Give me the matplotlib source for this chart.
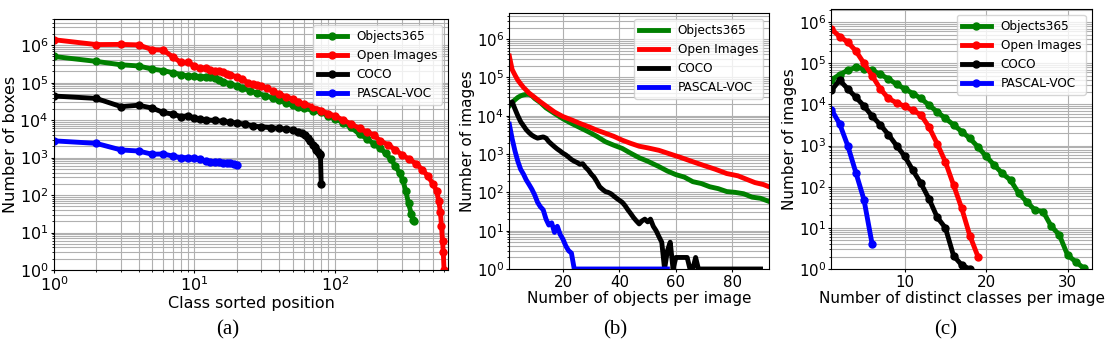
import matplotlib
matplotlib.use('Agg')
import matplotlib.pyplot as plt

names = ['Objects365', 'Open Images', 'COCO', 'PASCAL-VOC']
colors = ['green', 'red', 'black', 'blue']

# (a) boxes per class, classes sorted by count
obj_rank = [1, 2, 3, 4, 5, 6, 7, 8, 9, 10, 11, 12, 13, 14, 15, 16, 18, 20, 22, 25,
            28, 32, 36, 40, 45, 50, 55, 60, 70, 80, 90, 100, 115, 130, 150, 170,
            190, 210, 230, 250, 270, 290, 305, 320, 335, 350, 360, 365]
obj_boxes = [5.0e5, 3.7e5, 3.0e5, 2.8e5, 2.3e5, 2.1e5, 1.85e5, 1.65e5, 1.5e5, 1.5e5,
             1.45e5, 1.45e5, 1.4e5, 1.3e5, 1.15e5, 1.05e5, 9.5e4, 8.2e4, 7.3e4, 6.0e4,
             5.3e4, 4.5e4, 3.9e4, 3.4e4, 2.9e4, 2.5e4, 2.3e4, 2.1e4, 1.8e4, 1.6e4,
             1.3e4, 1.1e4, 8.5e3, 6.5e3, 4.2e3, 3.2e3, 2.3e3, 1.8e3, 1.3e3, 900,
             600, 380, 250, 130, 60, 32, 22, 20]
oi_rank = [1, 2, 3, 4, 5, 6, 7, 8, 9, 10, 11, 12, 13, 14, 15, 16, 17, 18, 20, 22,
           24, 26, 28, 30, 33, 36, 40, 45, 50, 55, 60, 70, 80, 90, 100, 115, 130,
           150, 170, 190, 210, 240, 270, 300, 340, 380, 420, 460, 500, 530, 550,
           565, 575, 585, 592, 600]
oi_boxes = [1.4e6, 1.04e6, 1.05e6, 1.02e6, 7.6e5, 7.4e5, 4.9e5, 3.5e5, 3.5e5, 2.75e5,
            2.5e5, 2.4e5, 2.2e5, 2.1e5, 2.0e5, 1.9e5, 1.75e5, 1.6e5, 1.45e5, 1.25e5,
            1.0e5, 9.3e4, 8.6e4, 8.0e4, 7.0e4, 6.0e4, 5.0e4, 4.2e4, 3.7e4, 3.0e4,
            2.7e4, 2.3e4, 1.8e4, 1.5e4, 1.3e4, 1.0e4, 8.0e3, 6.0e3, 4.8e3, 4.0e3,
            2.8e3, 2.2e3, 1.6e3, 1.2e3, 900, 680, 480, 320, 200, 130,
            70, 35, 15, 6, 3, 1]
coco_rank = [1, 2, 3, 4, 5, 6, 7, 8, 9, 10, 11, 12, 14, 16, 18, 20, 23, 26, 30, 35,
             40, 45, 50, 55, 58, 61, 64, 67, 70, 72, 74, 76, 78, 79, 80]
coco_boxes = [4.4e4, 3.8e4, 2.3e4, 2.5e4, 2.1e4, 1.6e4, 1.45e4, 1.25e4, 1.3e4, 1.15e4,
              1.07e4, 1.02e4, 9.8e3, 9.3e3, 8.8e3, 8.4e3, 7.8e3, 7.0e3, 6.6e3, 6.3e3,
              6.0e3, 5.7e3, 5.4e3, 4.9e3, 4.5e3, 4.0e3, 3.3e3, 2.7e3, 2.2e3, 1.9e3,
              1.6e3, 1.4e3, 1.25e3, 1.2e3, 200]
voc_rank = list(range(1, 21))
voc_boxes = [2.8e3, 2.4e3, 1.6e3, 1.5e3, 1.23e3, 1.25e3, 1.1e3, 1.0e3, 1.0e3, 950,
             900, 800, 780, 770, 760, 740, 720, 700, 660, 620]

# (b) images by number of annotated objects
obj_nobj = [1, 2, 3, 4, 5, 6, 7, 8, 9, 10, 12, 14, 17, 20, 23, 26, 29, 32, 35, 38,
            41, 44, 47, 50, 54, 57, 60, 63, 66, 69, 72, 75, 78, 81, 84, 87, 90, 93]
obj_imgs = [1.8e4, 2.2e4, 2.6e4, 3.0e4, 3.3e4, 3.5e4, 3.6e4, 3.6e4, 3.3e4, 2.8e4,
            2.2e4, 1.6e4, 1.15e4, 8.3e3, 6.3e3, 4.9e3, 3.8e3, 2.9e3, 2.1e3, 1.7e3,
            1.4e3, 1.05e3, 800, 650, 470, 360, 290, 250, 190, 170, 140, 125,
            105, 100, 92, 75, 70, 58]
oi_nobj = [1, 2, 3, 4, 5, 6, 8, 10, 12, 14, 17, 20, 23, 26, 29, 32, 35, 38, 41, 44,
           47, 50, 54, 58, 62, 66, 70, 74, 78, 82, 85, 88, 91, 93]
oi_imgs = [3.6e5, 1.6e5, 1.15e5, 8.5e4, 6.8e4, 5.5e4, 3.9e4, 3.0e4, 2.3e4, 1.8e4,
           1.25e4, 9.5e3, 7.8e3, 6.3e3, 5.2e3, 4.2e3, 3.5e3, 2.9e3, 2.3e3, 1.9e3,
           1.6e3, 1.45e3, 1.25e3, 1.0e3, 800, 630, 500, 400, 310, 270,
           220, 180, 160, 140]
coco_nobj = [1, 2, 3, 4, 5, 6, 7, 8, 9, 10, 11, 12, 13, 14, 15, 16, 17, 18, 19, 20,
             21, 22, 23, 24, 25, 26, 27, 28, 29, 30, 31, 32, 33, 34, 35, 36, 37, 38,
             39, 40, 41, 42, 43, 44, 45, 46, 47, 48, 49, 50, 51, 52, 53, 54, 55, 56,
             57, 58, 59, 60, 61, 62, 63, 64, 65, 66, 67, 68, 90]
coco_imgs = [2.0e4, 2.3e4, 1.5e4, 1.0e4, 7.0e3, 5.5e3, 4.3e3, 3.6e3, 3.1e3, 2.8e3,
             2.6e3, 2.7e3, 2.8e3, 2.6e3, 2.1e3, 1.8e3, 1.55e3, 1.35e3, 1.2e3, 1.05e3,
             950, 830, 720, 650, 600, 540, 560, 450, 380, 300, 250, 190, 140, 120,
             105, 100, 92, 80, 70, 62, 55, 45, 35, 28, 22, 18, 15, 18, 20, 17,
             20, 13, 10, 7, 5, 1, 3, 5, 1, 2, 2, 2, 2, 2, 1, 1, 2, 1, 1]
voc_nobj = [1, 2, 3, 4, 5, 6, 7, 8, 9, 10, 11, 12, 13, 14, 15, 16, 17, 18, 19, 20,
            21, 22, 23, 24, 57]
voc_imgs = [6.0e3, 2.5e3, 1.2e3, 650, 400, 300, 210, 160, 120, 85,
            55, 42, 35, 20, 14, 16, 9, 13, 8, 6,
            4, 3, 2.6, 1, 1]

# (c) images by number of distinct classes
obj_ncls = list(range(1, 33))
obj_cimgs = [4.0e4, 5.3e4, 6.8e4, 8.0e4, 7.5e4, 6.8e4, 5.4e4, 4.2e4, 3.1e4, 2.4e4,
             1.85e4, 1.4e4, 9.6e3, 6.6e3, 4.6e3, 3.2e3, 2.2e3, 1.5e3, 930, 550,
             336, 210, 145, 70, 43, 27, 25, 11, 6.7, 2.2, 1.5, 1.05]
oi_ncls = list(range(1, 20))
oi_cimgs = [6.8e5, 4.5e5, 3.3e5, 2.0e5, 1.0e5, 5.0e4, 2.4e4, 1.4e4, 1.1e4, 9.0e3,
            7.2e3, 5.6e3, 2.8e3, 1.1e3, 400, 110, 30, 6.5, 2]
coco_ncls = list(range(1, 19))
coco_cimgs = [2.2e4, 3.9e4, 2.4e4, 1.5e4, 9.2e3, 5.2e3, 3.2e3, 1.85e3, 1.0e3, 550,
              250, 120, 50, 18, 10, 2.1, 1.25, 1]
voc_ncls = list(range(1, 7))
voc_cimgs = [7.5e3, 3.4e3, 1.0e3, 220, 48, 4]

fig = plt.figure(figsize=(11.15, 3.47), dpi=100)
ax_a = fig.add_axes([0.0484, 0.2219, 0.3534, 0.7233])
ax_b = fig.add_axes([0.4568, 0.2248, 0.2329, 0.7378])
ax_c = fig.add_axes([0.7457, 0.2248, 0.2336, 0.7493])

panel_a = [(obj_rank, obj_boxes), (oi_rank, oi_boxes), (coco_rank, coco_boxes), (voc_rank, voc_boxes)]
panel_b = [(obj_nobj, obj_imgs), (oi_nobj, oi_imgs), (coco_nobj, coco_imgs), (voc_nobj, voc_imgs)]
panel_c = [(obj_ncls, obj_cimgs), (oi_ncls, oi_cimgs), (coco_ncls, coco_cimgs), (voc_ncls, voc_cimgs)]

for (x, y), name, c in zip(panel_a, names, colors):
    ax_a.plot(x, y, color=c, lw=3.5, marker='o', ms=5, label=name)
for (x, y), name, c in zip(panel_b, names, colors):
    ax_b.plot(x, y, color=c, lw=3.5, label=name)
for (x, y), name, c in zip(panel_c, names, colors):
    ax_c.plot(x, y, color=c, lw=3.5, marker='o', ms=5, label=name)

ax_a.set_xscale('log')
ax_a.set_xlim(1, 640)
ax_a.set_ylim(1, 5e6)
ax_a.set_xlabel('Class sorted position', fontsize=11.5, labelpad=1)
ax_a.set_ylabel('Number of boxes', fontsize=11.5, labelpad=1)

ax_b.set_xlim(1, 93)
ax_b.set_ylim(1, 4.8e6)
ax_b.set_xticks([20, 40, 60, 80])
ax_b.set_xlabel('Number of objects per image', fontsize=11, labelpad=1)
ax_b.set_ylabel('Number of images', fontsize=11, labelpad=1)

ax_c.set_xlim(1, 33)
ax_c.set_ylim(1, 2.1e6)
ax_c.set_xticks([10, 20, 30])
ax_c.set_xlabel('Number of distinct classes per image', fontsize=11, labelpad=1)
ax_c.set_ylabel('Number of images', fontsize=11, labelpad=1)

for ax, tsize in ((ax_a, 11.5), (ax_b, 10.8), (ax_c, 10.8)):
    ax.set_yscale('log')
    ax.set_yticks([1, 10, 100, 1e3, 1e4, 1e5, 1e6])
    ax.tick_params(which='major', labelsize=tsize, length=2.5, pad=1.5)
    ax.tick_params(which='minor', length=1.5)
    ax.grid(True, which='both', color='#b0b0b0', lw=0.8)
    ax.set_axisbelow(True)
    ax.legend(loc='upper right', fontsize=8.7, handlelength=2.4)

for xpos, tag in [(0.2045, '(a)'), (0.5516, '(b)'), (0.8484, '(c)')]:
    fig.text(xpos, 0.049, tag, ha='center', va='center', fontsize=15,
             family='Liberation Serif')

fig.savefig('out.png', dpi=100)
